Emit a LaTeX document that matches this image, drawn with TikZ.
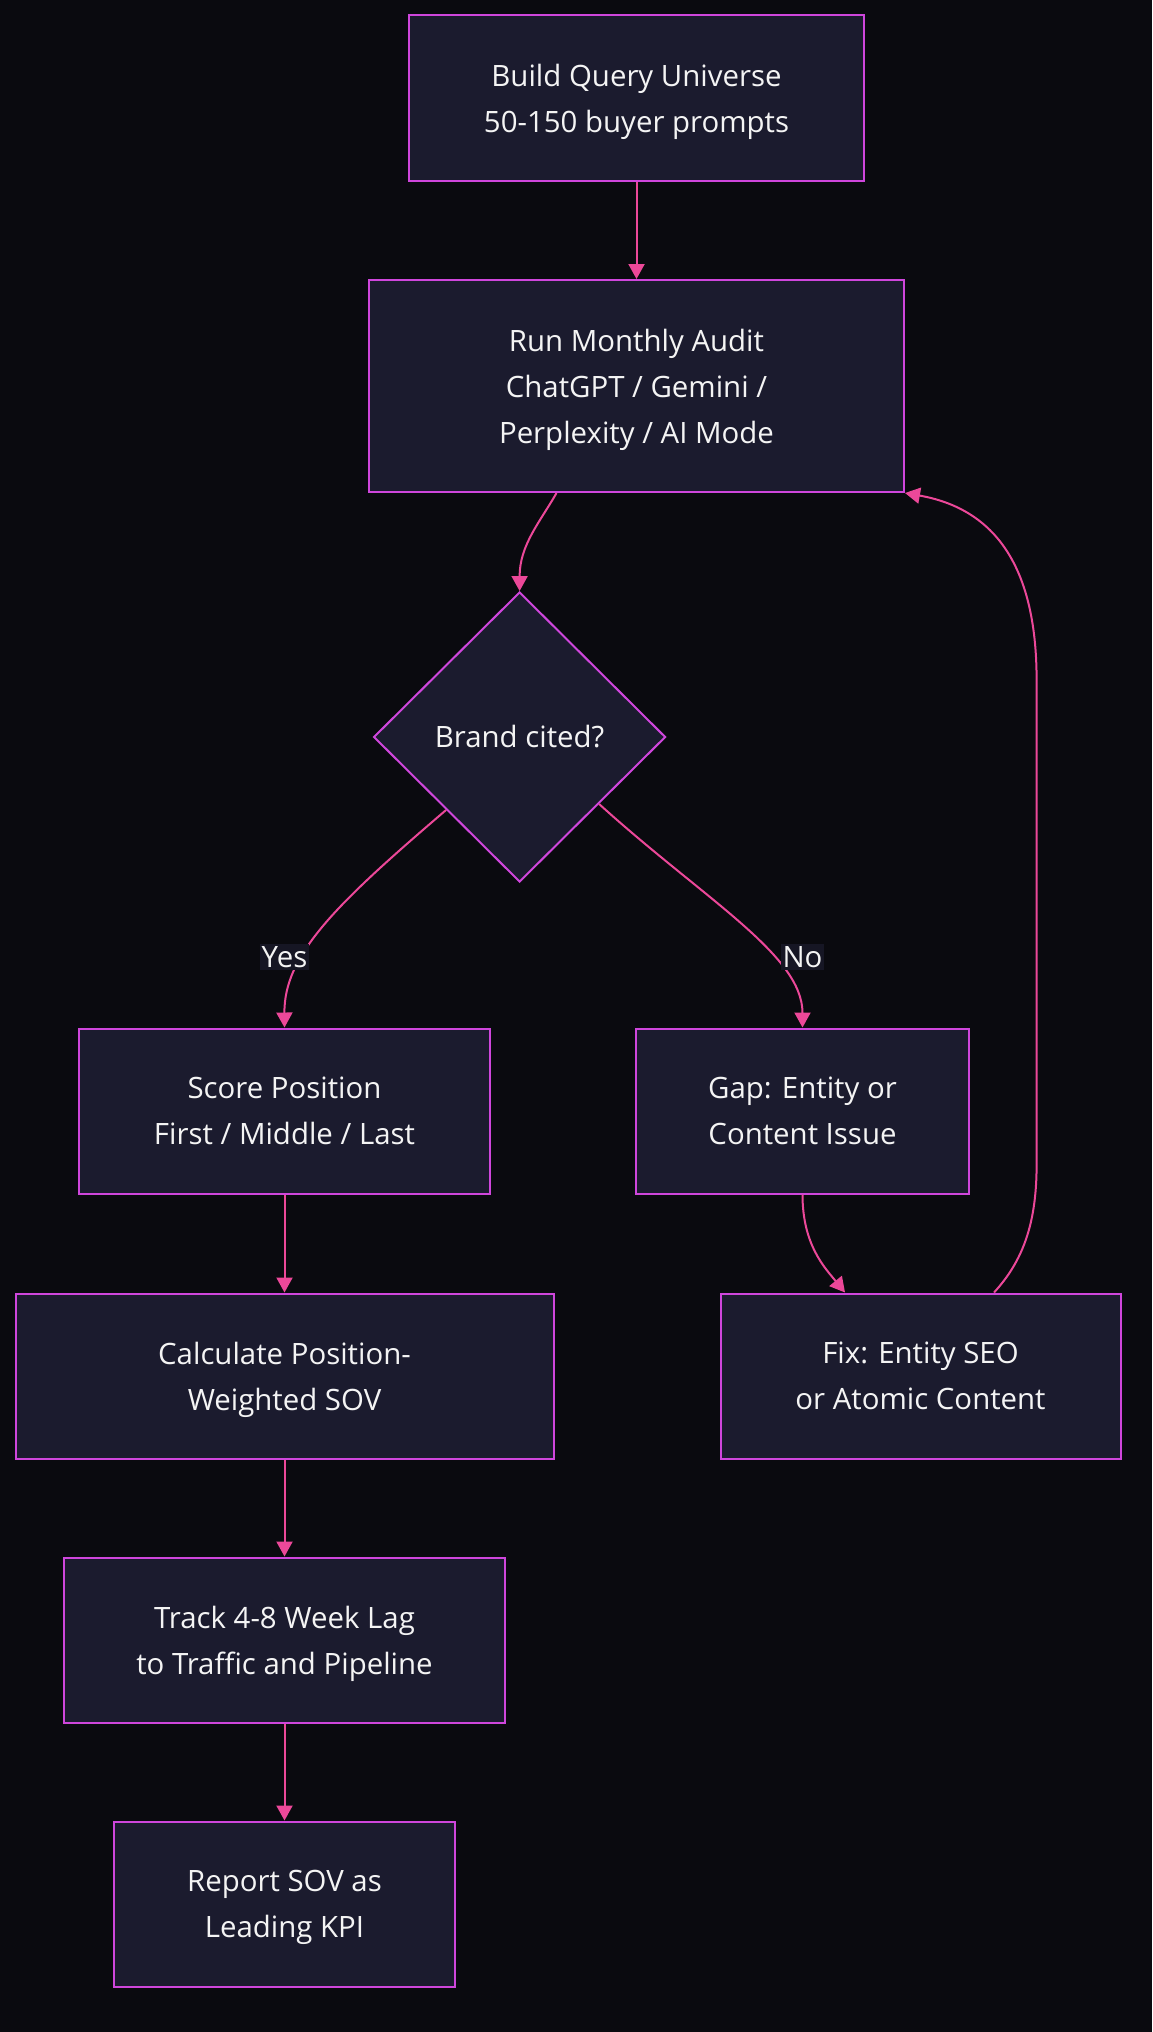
\documentclass[tikz,border=0pt]{standalone}
\usepackage{fontspec}
\setmainfont{Open Sans}
\usepackage{xcolor}
\usetikzlibrary{arrows.meta}
\usetikzlibrary{shapes.geometric}

\definecolor{bgcol}{HTML}{0A0A0F}
\definecolor{boxfill}{HTML}{1B1B2E}
\definecolor{boxline}{HTML}{CF46DC}
\definecolor{flowcol}{HTML}{EC4899}
\definecolor{lblfill}{HTML}{161624}
\definecolor{txtcol}{HTML}{F4F4F4}

\begin{document}
\begin{tikzpicture}[x=1pt, y=-1pt, line width=2pt,
    box/.style={draw=boxline, fill=boxfill, text=txtcol, align=center, inner sep=0pt,
        text depth=0pt, font=\fontsize{29.4}{46}\selectfont},
    decision/.style={diamond, aspect=1, draw=boxline, fill=boxfill, text=txtcol, inner sep=0pt,
        minimum width=292, minimum height=290, font=\fontsize{29.4}{46}\selectfont},
    flow/.style={draw=flowcol, -{Triangle[length=15pt, width=16pt]}},
    lbl/.style={fill=lblfill, text=txtcol, inner sep=2pt, font=\fontsize{29.4}{46}\selectfont}]

    \fill[bgcol] (0,0) rectangle (1152,2032);

    \node[box, minimum width=455, minimum height=166] (build) at (636.5,98) {Build Query Universe\\50-150 buyer prompts};
    \node[box, minimum width=535, minimum height=212] (audit) at (636.5,386) {Run Monthly Audit\\ChatGPT / Gemini /\\Perplexity / AI Mode};
    \node[decision] (cited) at (519.6,737) {Brand cited?};
    \node[box, minimum width=411, minimum height=165] (score) at (284.5,1111) {Score Position\\First / Middle / Last};
    \node[box, minimum width=333, minimum height=165] (gap) at (802.5,1111) {Gap: Entity or\\Content Issue};
    \node[box, minimum width=538, minimum height=165] (calc) at (284.5,1376) {Calculate Position-\\Weighted SOV};
    \node[box, minimum width=400, minimum height=165] (fix) at (920.5,1376) {Fix: Entity SEO\\or Atomic Content};
    \node[box, minimum width=441, minimum height=165] (track) at (284.5,1640) {Track 4-8 Week Lag\\to Traffic and Pipeline};
    \node[box, minimum width=341, minimum height=165] (report) at (284.5,1904) {Report SOV as\\Leading KPI};

    \draw[flow] (build.south) -- (audit.north);
    \draw[flow] ([xshift=-80pt]audit.south) .. controls (540,522) and (519.6,545) .. (cited.north);
    \draw[flow] (cited.south west) .. controls (335,905) and (284,955) .. (score.north);
    \draw[flow] ([xshift=6pt,yshift=6pt]cited.south east) .. controls (705,900) and (802.5,955) .. (gap.north);
    \draw[flow] (gap.south) .. controls (802.5,1245) and (825,1268) .. ([xshift=-75.5pt]fix.north);
    \draw[flow] ([xshift=73.5pt]fix.north) .. controls (1022,1262) and (1036.6,1225) .. (1036.6,1165)
        -- (1036.6,680) .. controls (1036.6,560) and (990,508) .. (audit.south east);
    \draw[flow] (score.south) -- (calc.north);
    \draw[flow] (calc.south) -- (track.north);
    \draw[flow] (track.south) -- (report.north);

    \node[lbl] (yes) at (284.5,957) {Yes};
    \node[lbl] (no) at (802.5,957) {No};

\end{tikzpicture}
\end{document}
